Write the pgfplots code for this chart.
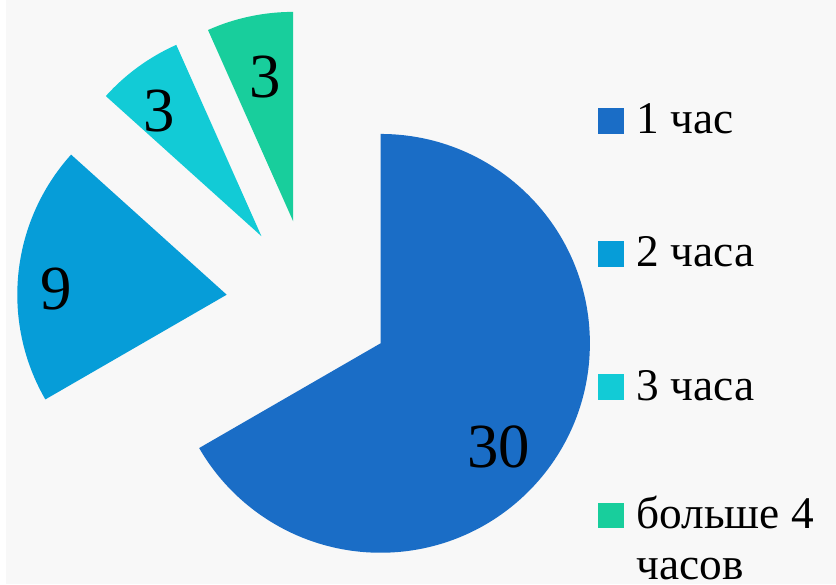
\documentclass[border=0pt]{standalone}
\usepackage{pgfplots}
\usepackage{pgfplotstable}
\pgfplotsset{compat=1.18}
\usepackage{fontspec}
\setmainfont{Liberation Serif}

\definecolor{bg}{HTML}{F8F8F8}
\definecolor{c0}{HTML}{1A6DC6}
\definecolor{c1}{HTML}{069DD8}
\definecolor{c2}{HTML}{12CBD6}
\definecolor{c3}{HTML}{18CE9C}

% value, tip of the (exploded) slice, label position -- pixel units, y up
\pgfplotstableread{
value tx  ty  lx  ly
30    377 243 496 139
9     222 292 50  298
3     257 351 154 477
3     289 366 261 511
}\slices

\def\rad{2.11cm}

\begin{document}
\begin{tikzpicture}
\begin{axis}[
	scale only axis,
	width=8.36cm, height=5.89cm,
	xmin=0, xmax=836, ymin=0, ymax=589,
	hide axis, clip=false,
	legend style={
		at={(axis cs:585,499)}, anchor=north west,
		draw=none, fill=none,
		font=\fontsize{13}{15}\selectfont,
		row sep=0.845cm,
		cells={anchor=base west},
	},
	legend image code/.code={%
		\fill[#1, draw=none] (0cm,0cm) rectangle (0.26cm,0.26cm);
		\path (0.31cm,0cm);},
]
\fill[bg] (axis cs:0,0) rectangle (axis cs:836,589);

\xdef\total{0}
\pgfplotsinvokeforeach{0,...,3}{%
	\pgfplotstablegetelem{#1}{value}\of\slices
	\pgfmathsetmacro\t{\total+\pgfplotsretval}\xdef\total{\t}
}

\xdef\astart{90}
\pgfplotsinvokeforeach{0,...,3}{%
	\pgfplotstablegetelem{#1}{value}\of\slices\edef\v{\pgfplotsretval}
	\pgfplotstablegetelem{#1}{tx}\of\slices\edef\tx{\pgfplotsretval}
	\pgfplotstablegetelem{#1}{ty}\of\slices\edef\ty{\pgfplotsretval}
	\pgfplotstablegetelem{#1}{lx}\of\slices\edef\lx{\pgfplotsretval}
	\pgfplotstablegetelem{#1}{ly}\of\slices\edef\ly{\pgfplotsretval}
	\pgfmathsetmacro\aend{\astart-360*\v/\total}
	\edef\cmd{%
		\noexpand\fill[c#1] (axis cs:\tx,\ty) -- ++(\astart:\rad)
			arc[start angle=\astart, end angle=\aend, radius=\rad] -- cycle;
		\noexpand\node[font=\noexpand\fontsize{18}{21}\noexpand\selectfont]
			at (axis cs:\lx,\ly) {\v};
	}%
	\cmd
	\xdef\astart{\aend}
}

\addlegendimage{fill=c0}
\addlegendentry{1 час}
\addlegendimage{fill=c1}
\addlegendentry{2 часа}
\addlegendimage{fill=c2}
\addlegendentry{3 часа}
\addlegendimage{fill=c3}
\addlegendentry{\raisebox{0pt}[7.3pt][0pt]{\renewcommand\arraystretch{0.85}%
	\begin{tabular}[t]{@{}l@{}}больше 4\\[1.8pt]часов\end{tabular}}}
\end{axis}
\end{tikzpicture}
\end{document}
